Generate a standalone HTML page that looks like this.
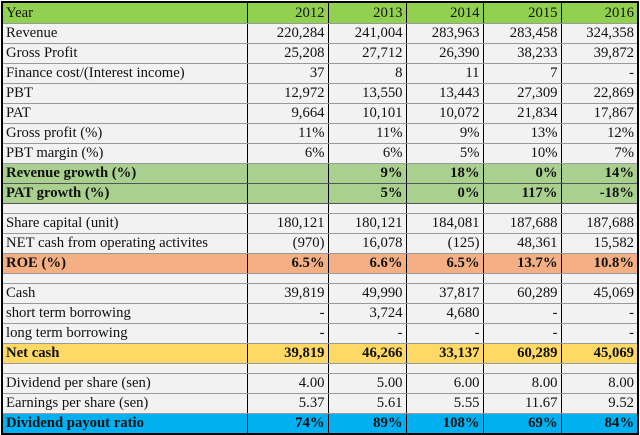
<!DOCTYPE html>
<html><head><meta charset="utf-8"><style>
body{margin:0;background:#fff;width:640px;height:435px;overflow:hidden}
table{position:absolute;left:1px;top:1px;border-collapse:collapse;table-layout:fixed;font-family:"Liberation Serif",serif;font-size:14.7px;color:#111;border:2px solid #000}
td{height:19px;padding:0 3px;border-left:1px solid #000;border-right:1px solid #000;border-top:1px solid #999;border-bottom:1px solid #999;background:#f2f2f2;text-align:right;white-space:nowrap;line-height:19px;overflow:hidden}
td:first-child{text-align:left}
tr.blank td{height:9px;line-height:9px}
tr.b td{font-weight:bold}
tr.yr td{background:#92d050;height:20px}
tr.gr td{background:#a9d08e;border-top:1px solid #555;border-bottom:1px solid #555}
tr.roe td{background:#f4b084}
tr.nc td{background:#ffd966}
tr.dp td{background:#00b0f0}
</style></head><body>
<table>
<colgroup><col style="width:245px"><col style="width:81px"><col style="width:78px"><col style="width:77px"><col style="width:78px"><col style="width:77px"></colgroup>
<tr class="yr"><td>Year</td><td>2012</td><td>2013</td><td>2014</td><td>2015</td><td>2016</td></tr>
<tr><td>Revenue</td><td>220,284</td><td>241,004</td><td>283,963</td><td>283,458</td><td>324,358</td></tr>
<tr><td>Gross Profit</td><td>25,208</td><td>27,712</td><td>26,390</td><td>38,233</td><td>39,872</td></tr>
<tr><td>Finance cost/(Interest income)</td><td>37</td><td>8</td><td>11</td><td>7</td><td>-</td></tr>
<tr><td>PBT</td><td>12,972</td><td>13,550</td><td>13,443</td><td>27,309</td><td>22,869</td></tr>
<tr><td>PAT</td><td>9,664</td><td>10,101</td><td>10,072</td><td>21,834</td><td>17,867</td></tr>
<tr><td>Gross profit (%)</td><td>11%</td><td>11%</td><td>9%</td><td>13%</td><td>12%</td></tr>
<tr><td>PBT margin (%)</td><td>6%</td><td>6%</td><td>5%</td><td>10%</td><td>7%</td></tr>
<tr class="gr b"><td>Revenue growth (%)</td><td></td><td>9%</td><td>18%</td><td>0%</td><td>14%</td></tr>
<tr class="gr b"><td>PAT growth (%)</td><td></td><td>5%</td><td>0%</td><td>117%</td><td>-18%</td></tr>
<tr class="blank"><td></td><td></td><td></td><td></td><td></td><td></td></tr>
<tr><td>Share capital (unit)</td><td>180,121</td><td>180,121</td><td>184,081</td><td>187,688</td><td>187,688</td></tr>
<tr><td>NET cash from operating activites</td><td>(970)</td><td>16,078</td><td>(125)</td><td>48,361</td><td>15,582</td></tr>
<tr class="roe b"><td>ROE (%)</td><td>6.5%</td><td>6.6%</td><td>6.5%</td><td>13.7%</td><td>10.8%</td></tr>
<tr class="blank"><td></td><td></td><td></td><td></td><td></td><td></td></tr>
<tr><td>Cash</td><td>39,819</td><td>49,990</td><td>37,817</td><td>60,289</td><td>45,069</td></tr>
<tr><td>short term borrowing</td><td>-</td><td>3,724</td><td>4,680</td><td>-</td><td>-</td></tr>
<tr><td>long term borrowing</td><td>-</td><td>-</td><td>-</td><td>-</td><td>-</td></tr>
<tr class="nc b"><td>Net cash</td><td>39,819</td><td>46,266</td><td>33,137</td><td>60,289</td><td>45,069</td></tr>
<tr class="blank"><td></td><td></td><td></td><td></td><td></td><td></td></tr>
<tr><td>Dividend per share (sen)</td><td>4.00</td><td>5.00</td><td>6.00</td><td>8.00</td><td>8.00</td></tr>
<tr><td>Earnings per share (sen)</td><td>5.37</td><td>5.61</td><td>5.55</td><td>11.67</td><td>9.52</td></tr>
<tr class="dp b"><td>Dividend payout ratio</td><td>74%</td><td>89%</td><td>108%</td><td>69%</td><td>84%</td></tr>
</table>
</body></html>
